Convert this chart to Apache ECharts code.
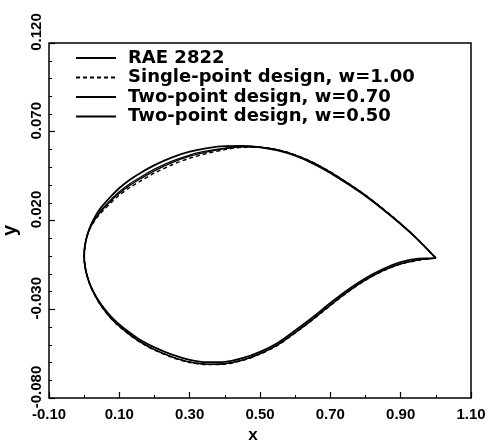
<!DOCTYPE html>
<html>
<head>
<meta charset="utf-8">
<script src="https://cdn.jsdelivr.net/npm/echarts@6/dist/echarts.min.js"></script>
<style>
  html, body { margin: 0; padding: 0; background: #fff; }
  #chart { width: 494px; height: 446px; }
</style>
</head>
<body>
<div id="chart"></div>
<script>
// chord stations shared by every outline
const xStations = [0, 0.0025, 0.01, 0.02, 0.035, 0.05, 0.075, 0.1, 0.13, 0.16, 0.2, 0.25, 0.3, 0.35,
  0.4, 0.45, 0.5, 0.55, 0.6, 0.65, 0.7, 0.75, 0.8, 0.85, 0.9, 0.95, 1.0];

const raeUpper = [0, 0.0062, 0.0125, 0.0178, 0.0235, 0.0278, 0.0333, 0.0383, 0.0430, 0.0468, 0.0512,
  0.0556, 0.0588, 0.0608, 0.0619, 0.0620, 0.0612, 0.0595, 0.0565, 0.0522, 0.0468, 0.0405, 0.0338,
  0.0262, 0.0180, 0.0090, -0.0012];
const raeLower = [0, -0.0060, -0.0122, -0.0175, -0.0232, -0.0277, -0.0338, -0.0385, -0.0432, -0.0473,
  -0.0515, -0.0556, -0.0585, -0.0598, -0.0596, -0.0576, -0.0540, -0.0490, -0.0420, -0.0345, -0.0265,
  -0.0190, -0.0125, -0.0073, -0.0035, -0.0015, -0.0012];

const singleUpper = [0, 0.0062, 0.0123, 0.0168, 0.0212, 0.0248, 0.0298, 0.0343, 0.0386, 0.0422, 0.0467,
  0.0514, 0.0551, 0.0578, 0.0599, 0.0612, 0.0612, 0.0599, 0.0570, 0.0528, 0.0474, 0.0411, 0.0343,
  0.0266, 0.0182, 0.0091, -0.0012];
const singleLower = [0, -0.0061, -0.0124, -0.0180, -0.0240, -0.0287, -0.0350, -0.0398, -0.0446, -0.0487,
  -0.0530, -0.0571, -0.0600, -0.0612, -0.0609, -0.0589, -0.0553, -0.0503, -0.0434, -0.0359, -0.0279,
  -0.0203, -0.0137, -0.0084, -0.0046, -0.0024, -0.0012];

const w70Upper = [0, 0.0062, 0.0124, 0.0173, 0.0222, 0.0262, 0.0315, 0.0362, 0.0407, 0.0444, 0.0489,
  0.0534, 0.0569, 0.0592, 0.0608, 0.0616, 0.0613, 0.0598, 0.0569, 0.0527, 0.0473, 0.0410, 0.0342,
  0.0265, 0.0182, 0.0091, -0.0012];
const w70Lower = [0, -0.0061, -0.0123, -0.0179, -0.0238, -0.0285, -0.0348, -0.0396, -0.0444, -0.0485,
  -0.0528, -0.0569, -0.0598, -0.0610, -0.0607, -0.0587, -0.0551, -0.0501, -0.0432, -0.0357, -0.0277,
  -0.0201, -0.0135, -0.0082, -0.0045, -0.0023, -0.0012];

const w50Upper = [0, 0.0062, 0.0124, 0.0171, 0.0218, 0.0256, 0.0308, 0.0354, 0.0398, 0.0435, 0.0480,
  0.0526, 0.0562, 0.0587, 0.0605, 0.0615, 0.0613, 0.0598, 0.0569, 0.0526, 0.0472, 0.0409, 0.0341,
  0.0264, 0.0181, 0.0091, -0.0012];
const w50Lower = [0, -0.0061, -0.0123, -0.0178, -0.0237, -0.0284, -0.0347, -0.0395, -0.0443, -0.0484,
  -0.0527, -0.0568, -0.0597, -0.0609, -0.0606, -0.0586, -0.0550, -0.0500, -0.0431, -0.0356, -0.0276,
  -0.0200, -0.0134, -0.0081, -0.0044, -0.0022, -0.0012];

const xMajorTicks = [-0.1, 0.1, 0.3, 0.5, 0.7, 0.9, 1.1];
const xMinorTicks = [0, 0.2, 0.4, 0.6, 0.8, 1.0];
const yMajorTicks = [-0.08, -0.03, 0.02, 0.07, 0.12];
const yMinorTicks = [-0.07, -0.06, -0.05, -0.04, -0.02, -0.01, 0, 0.01, 0.03, 0.04, 0.05, 0.06,
  0.08, 0.09, 0.10, 0.11];

const seriesNames = ['RAE 2822', 'Single-point design, w=1.00', 'Two-point design, w=0.70', 'Two-point design, w=0.50'];

// trailing edge -> upper -> leading edge -> lower -> trailing edge
function outline(upper, lower) {
  const pts = [];
  for (let i = xStations.length - 1; i >= 0; i--) pts.push([xStations[i], upper[i]]);
  for (let i = 1; i < xStations.length; i++) pts.push([xStations[i], lower[i]]);
  return pts;
}

const font = 'Liberation Sans';

function lineSeries(name, data, width, type) {
  return {
    name: name,
    type: 'line',
    data: data,
    symbol: 'none',
    smooth: 0.3,
    lineStyle: { color: '#000', width: width, type: type },
    itemStyle: { color: '#000' }
  };
}

const chart = echarts.init(document.getElementById('chart'));
chart.setOption({
  backgroundColor: '#fff',
  animation: false,
  grid: {
    left: 49, right: 23, top: 43, bottom: 48,
    outerBoundsMode: 'none',
    show: true, borderColor: '#000', borderWidth: 1.5
  },
  legend: {
    orient: 'vertical',
    left: 75,
    top: 49,
    padding: 0,
    itemWidth: 40,
    itemHeight: 14,
    itemGap: 1.5,
    itemStyle: { opacity: 0 },
    data: seriesNames,
    textStyle: { fontFamily: 'DejaVu Sans', fontWeight: 'bold', fontSize: 18, color: '#000', padding: [0, 0, 0, 7] }
  },
  xAxis: [
    {
      type: 'value', min: -0.1, max: 1.1, interval: 0.1,
      name: 'x', nameLocation: 'middle', nameGap: 28,
      nameTextStyle: { fontFamily: font, fontWeight: 'bold', fontSize: 17, color: '#000', padding: [0, 14, 0, 0] },
      axisLine: { show: false, onZero: false },
      axisTick: { show: true, inside: true, length: 6, customValues: xMajorTicks, lineStyle: { color: '#000', width: 1.2 } },
      axisLabel: { customValues: xMajorTicks, margin: 9, color: '#000', fontFamily: font, fontWeight: 'bold', fontSize: 15,
        formatter: v => v.toFixed(2) },
      splitLine: { show: false }
    },
    {
      type: 'value', min: -0.1, max: 1.1, position: 'bottom', offset: 0,
      axisLine: { show: false, onZero: false },
      axisTick: { show: true, inside: true, length: 3, customValues: xMinorTicks, lineStyle: { color: '#000', width: 1 } },
      axisLabel: { show: false },
      splitLine: { show: false }
    }
  ],
  yAxis: [
    {
      type: 'value', min: -0.08, max: 0.12,
      name: 'y', nameLocation: 'middle', nameGap: 29, nameRotate: 90,
      nameTextStyle: { fontFamily: font, fontWeight: 'bold', fontSize: 20, color: '#000', padding: [0, 20, 0, 0] },
      axisLine: { show: false, onZero: false },
      axisTick: { show: true, inside: true, length: 6, customValues: yMajorTicks, lineStyle: { color: '#000', width: 1.2 } },
      axisLabel: { customValues: yMajorTicks, rotate: 90, margin: 5, color: '#000', fontFamily: font, fontWeight: 'bold', fontSize: 15,
        padding: [0, 0, 0, 22], formatter: v => v.toFixed(3) },
      splitLine: { show: false }
    },
    {
      type: 'value', min: -0.08, max: 0.12, position: 'left', offset: 0,
      axisLine: { show: false, onZero: false },
      axisTick: { show: true, inside: true, length: 3, customValues: yMinorTicks, lineStyle: { color: '#000', width: 1 } },
      axisLabel: { show: false },
      splitLine: { show: false }
    }
  ],
  series: [
    lineSeries(seriesNames[0], outline(raeUpper, raeLower), 1.8, 'solid'),
    lineSeries(seriesNames[1], outline(singleUpper, singleLower), 1.4, [4, 3]),
    lineSeries(seriesNames[2], outline(w70Upper, w70Lower), 1.3, 'solid'),
    lineSeries(seriesNames[3], outline(w50Upper, w50Lower), 1.3, 'solid')
  ]
});
</script>
</body>
</html>
